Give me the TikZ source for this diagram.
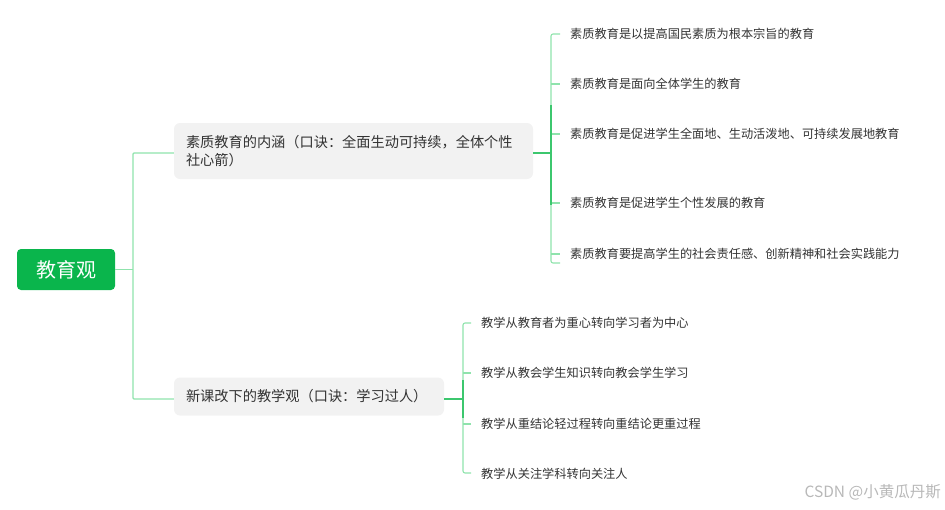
\documentclass[tikz,border=0pt]{standalone}
\usepackage{fontspec}
\setmainfont{Noto Sans CJK SC}
\definecolor{rootgreen}{HTML}{0AB54C}
\definecolor{lightline}{HTML}{8FE3AC}
\definecolor{darkline}{HTML}{3CC76E}
\definecolor{boxgray}{HTML}{F2F2F2}
\definecolor{txt}{HTML}{333333}
\definecolor{wm}{HTML}{B8B8B8}
\begin{document}
\begin{tikzpicture}[x=1pt,y=-1pt,
  rootbox/.style={fill=rootgreen,rounded corners=4pt,text=white,minimum width=98pt,minimum height=41pt,inner sep=0pt,font=\fontsize{20}{22}\selectfont},
  midbox/.style={fill=boxgray,rounded corners=6pt,text=txt,inner sep=0pt,font=\fontsize{14.2}{18}\selectfont},
  leaf/.style={anchor=west,inner sep=0pt,text=txt,font=\fontsize{12.2}{14}\selectfont},
  lline/.style={draw=lightline,line width=1.1pt},
  dline/.style={draw=darkline,line width=1.4pt}]
\useasboundingbox (0,0) rectangle (945,509);
% root
\node[rootbox] (root) at (66,269.5) {教育观};
% mid nodes
\node[midbox,minimum width=359pt,minimum height=56pt,text width=335pt,align=left] (m1) at (353.5,151) {素质教育的内涵（口诀：全面生动可持续，全体个性\\社心箭）};
\node[midbox,minimum width=270pt,minimum height=38pt,text width=246pt,align=left] (m2) at (309,396.5) {新课改下的教学观（口诀：学习过人）};
% root connectors
\coordinate (rj) at (133,269.5);
\draw[lline] (root.east) -- (rj);
\draw[lline,rounded corners=1pt] (m1.west |- 0,153) -| (rj) |- (m2.west |- 0,399);
% leaves of m1
\node[leaf] (a1) at (570,34) {素质教育是以提高国民素质为根本宗旨的教育};
\node[leaf] (a2) at (570,84) {素质教育是面向全体学生的教育};
\node[leaf] (a3) at (570,134) {素质教育是促进学生全面地、生动活泼地、可持续发展地教育};
\node[leaf] (a4) at (570,203) {素质教育是促进学生个性发展的教育};
\node[leaf] (a5) at (570,254) {素质教育要提高学生的社会责任感、创新精神和社会实践能力};
\coordinate (j1) at (551,153);
\draw[lline,rounded corners=2pt] (560,34) -| (j1) |- (560,263);
\foreach \y in {84,134,203,254} \draw[lline] (551,\y) -- (560,\y);
\draw[dline] (m1.east |- j1) -- (j1);
\draw[darkline,line width=1.1pt] (551,105) -- (551,205);
% leaves of m2
\node[leaf] (b1) at (481,323) {教学从教育者为重心转向学习者为中心};
\node[leaf] (b2) at (481,373) {教学从教会学生知识转向教会学生学习};
\node[leaf] (b3) at (481,424) {教学从重结论轻过程转向重结论更重过程};
\node[leaf] (b4) at (481,474) {教学从关注学科转向关注人};
\coordinate (j2) at (463,399);
\draw[lline,rounded corners=2pt] (471,323) -| (j2) |- (471,473);
\foreach \y in {373,424} \draw[lline] (463,\y) -- (471,\y);
\draw[dline] (m2.east |- j2) -- (j2);
\draw[darkline,line width=1.1pt] (463,380) -- (463,418);
% watermark
\node[anchor=east,inner sep=0pt,text=wm,font=\fontsize{15.5}{17}\selectfont] (wmk) at (941,492) {CSDN @小黄瓜丹斯};
\end{tikzpicture}
\end{document}
